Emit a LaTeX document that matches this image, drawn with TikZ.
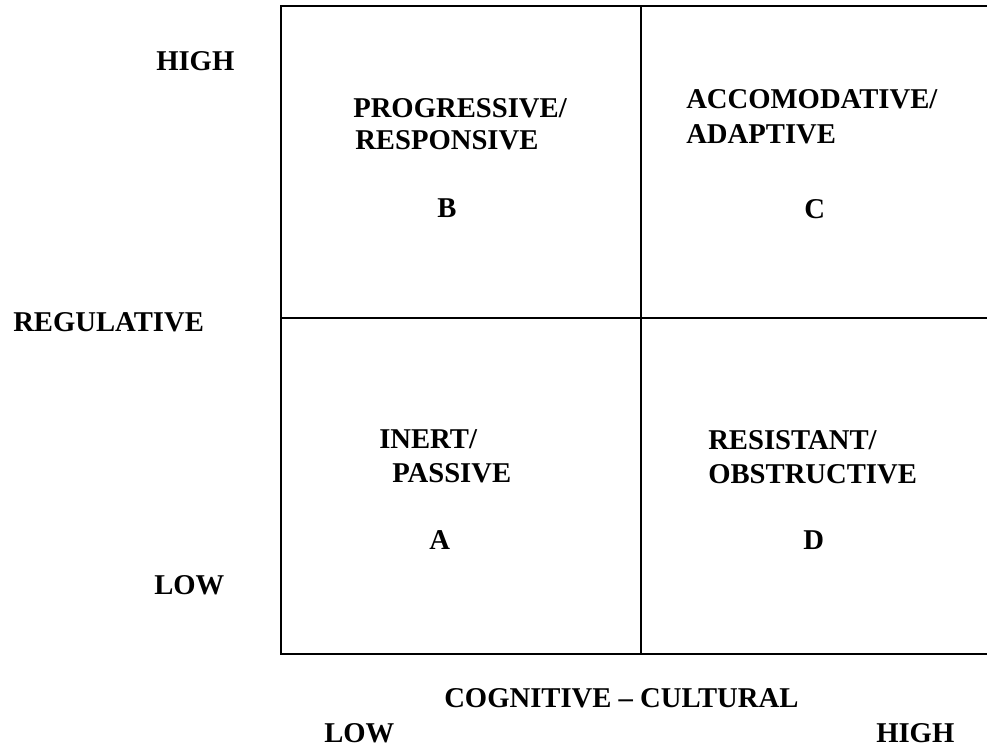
\documentclass[tikz,border=0pt]{standalone}
\usepackage{fontspec}
\setmainfont{Liberation Serif}
\usepackage{tikz}
\usetikzlibrary{positioning}

\tikzset{
    lbl/.style={font=\fontsize{21.5}{26}\selectfont\bfseries, anchor=base west, inner sep=0pt},
    gridline/.style={black, line width=1pt}
}

\begin{document}
\begin{tikzpicture}[x=0.75pt,y=-0.75pt]
    \useasboundingbox (0,0) rectangle (987,749);
    \clip (0,0) rectangle (987,749);
    %%%%% THE GRID
    \draw[gridline] (281,6) rectangle (995,654);
    \draw[gridline] (641,6) -- (641,654);
    \draw[gridline] (281,318) -- (995,318);
    %%%%% VERTICAL AXIS
    \node[lbl] (yhigh) at (156,70) {HIGH};
    \node[lbl] (yname) at (13,331) {REGULATIVE};
    \node[lbl] (ylow)  at (154,594) {LOW};
    %%%%% QUADRANTS
    \node[lbl] (B1) at (353,117) {PROGRESSIVE/};
    \node[lbl] (B2) at (355,149) {RESPONSIVE};
    \node[lbl] (B)  at (437,217) {B};
    \node[lbl] (C1) at (686,108) {ACCOMODATIVE/};
    \node[lbl] (C2) at (686,143) {ADAPTIVE};
    \node[lbl] (C)  at (804,218) {C};
    \node[lbl] (A1) at (379,448) {INERT/};
    \node[lbl] (A2) at (392,482) {PASSIVE};
    \node[lbl] (A)  at (429,549) {A};
    \node[lbl] (D1) at (708,449) {RESISTANT/};
    \node[lbl] (D2) at (708,483) {OBSTRUCTIVE};
    \node[lbl] (D)  at (803,549) {D};
    %%%%% HORIZONTAL AXIS
    \node[lbl] (xname) at (444,707) {COGNITIVE – CULTURAL};
    \node[lbl] (xlow)  at (324,742) {LOW};
    \node[lbl] (xhigh) at (876,742) {HIGH};
\end{tikzpicture}
\end{document}
